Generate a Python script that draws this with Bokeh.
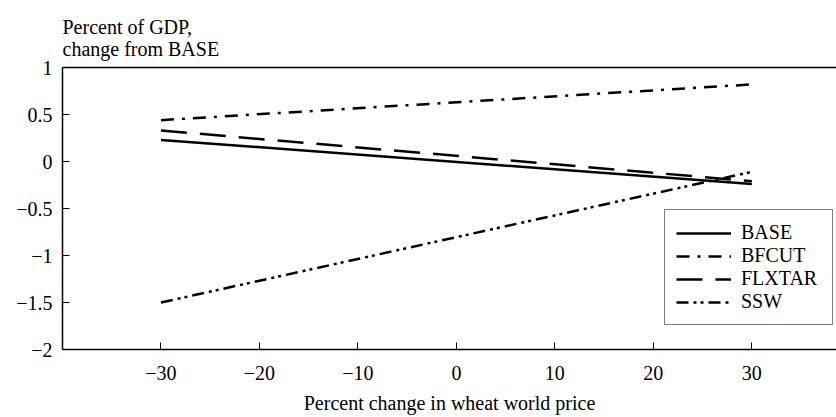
from bokeh.plotting import figure
from bokeh.models import (FixedTicker, LinearAxis, Legend, LegendItem, Range1d, Title)
from bokeh.embed import file_html
from bokeh.resources import INLINE

# Percent change in wheat world price (x) vs. GDP impact (y)
price_change = [-30, 30]
base = [0.23, -0.24]
bfcut = [0.44, 0.82]
flxtar = [0.33, -0.21]
ssw = [-1.50, -0.11]

series_names = ["BASE", "BFCUT", "FLXTAR", "SSW"]
x_ticks = [-30, -20, -10, 0, 10, 20, 30]
y_ticks = [1, 0.5, 0, -0.5, -1, -1.5, -2]

FONT = "Liberation Serif"
FS = "20px"


def fmt(v):
    s = ("%g" % v)
    return s.replace("-", "\u2212")


p = figure(width=836, height=417, output_backend="svg", toolbar_location=None,
           x_range=Range1d(-40, 38.6), y_range=Range1d(-2, 1),
           min_border_left=62, min_border_right=0, min_border_top=67,
           min_border_bottom=68)
p.outline_line_color = None
p.xgrid.visible = False
p.ygrid.visible = False
p.background_fill_color = "white"
p.border_fill_color = "white"

for ax, ticks in ((p.xaxis[0], x_ticks), (p.yaxis[0], y_ticks)):
    ax.ticker = FixedTicker(ticks=ticks)
    ax.major_label_overrides = {t: fmt(t) for t in ticks}
    ax.major_tick_in = 7
    ax.major_tick_out = 0
    ax.minor_tick_line_color = None
    ax.axis_line_color = "black"
    ax.axis_line_width = 1.5
    ax.major_tick_line_color = "black"
    ax.major_label_text_font = FONT
    ax.major_label_text_font_size = FS
    ax.major_label_text_color = "black"

p.yaxis.major_label_standoff = 10
p.xaxis.major_label_standoff = 16
p.xaxis.axis_label = "Percent change in wheat world price"
p.xaxis.axis_label_text_font = FONT
p.xaxis.axis_label_text_font_size = FS
p.xaxis.axis_label_text_font_style = "normal"
p.xaxis.axis_label_text_color = "black"
p.xaxis.axis_label_standoff = 9

# top border of the plot area
top = LinearAxis(ticker=FixedTicker(ticks=[]), axis_line_color="black",
                 axis_line_width=1.5, major_tick_line_color=None,
                 minor_tick_line_color=None)
p.add_layout(top, "above")

p.add_layout(Title(text="Percent of GDP,\nchange from BASE", align="left",
                   text_font=FONT, text_font_size=FS, text_font_style="normal",
                   text_color="black", text_line_height=1.02, standoff=14),
             "above")

styles = {
    "BASE": dict(line_dash="solid"),
    "BFCUT": dict(line_dash="13 8 3 8"),
    "FLXTAR": dict(line_dash="26 13"),
    "SSW": dict(line_dash="12 5 3 4 3 5"),
}
data = {"BASE": base, "BFCUT": bfcut, "FLXTAR": flxtar, "SSW": ssw}

items = []
for name in series_names:
    r = p.line(price_change, data[name], line_color="black", line_width=2.5,
               **styles[name])
    items.append(LegendItem(label=name, renderers=[r]))

legend = Legend(items=items, location=(602, 24))
legend.glyph_width = 55
legend.glyph_height = 20
legend.label_height = 20
legend.spacing = 0
legend.padding = 11
legend.label_standoff = 10
legend.label_width = 80
legend.margin = 0
legend.label_text_font = FONT
legend.label_text_font_size = FS
legend.label_text_font_style = "normal"
legend.label_text_color = "black"
legend.border_line_color = "black"
legend.border_line_width = 1.2
legend.background_fill_color = "white"
legend.background_fill_alpha = 1
p.add_layout(legend, "center")

open("out.html", "w").write(file_html(p, INLINE))
